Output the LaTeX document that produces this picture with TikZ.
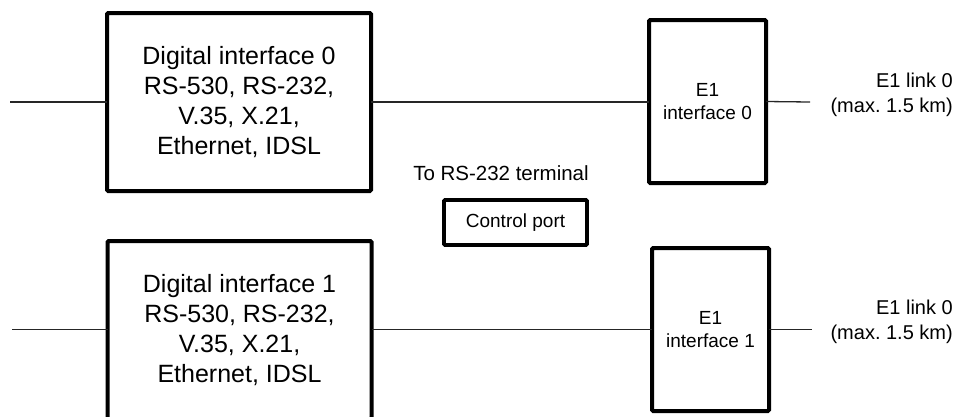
\documentclass[tikz,border=0pt]{standalone}
\usepackage{fontspec}
\setmainfont{Liberation Sans}
\frenchspacing
\begin{document}
\begin{tikzpicture}[x=1pt,y=-1pt,
  bigbox/.style={draw=black, line width=4pt, rounded corners=1.2pt, inner sep=0pt, outer sep=0pt, align=center,
     font=\fontsize{25}{30}\selectfont},
  e1box/.style={draw=black, line width=4pt, rounded corners=1.2pt, inner sep=0pt, outer sep=0pt, align=center,
     minimum width=117pt, minimum height=163pt, font=\fontsize{19}{23}\selectfont},
  ctlbox/.style={draw=black, line width=3.6pt, rounded corners=1pt, inner sep=0pt, outer sep=0pt, align=center,
     minimum width=143pt, minimum height=45pt, font=\fontsize{19}{23}\selectfont},
  lbl/.style={inner sep=0pt, align=right, font=\fontsize{20}{25}\selectfont},
  conn/.style={draw=black!85, line width=1.3pt}
]
\useasboundingbox (0,0) rectangle (955,416);
\clip (0,0) rectangle (955,416);

\node[bigbox, minimum width=264pt, minimum height=178pt] (d0) at (239,102)
  {Digital interface 0\\RS-530, RS-232,\\V.35, X.21,\\Ethernet, IDSL};
\node[bigbox, minimum width=264pt, minimum height=178pt, anchor=north] (d1) at (239.5,241)
  {Digital interface 1\\RS-530, RS-232,\\V.35, X.21,\\Ethernet, IDSL};

\node[e1box] (e0) at (707.5,101.5) {E1\\interface 0};
\node[e1box] (e1) at (710.5,329.5) {E1\\interface 1};

\node[ctlbox] (cp) at (515.5,222.5) {Control port};
\node[inner sep=0pt, font=\fontsize{20.5}{25}\selectfont] (term) at (501,173) {To RS-232 terminal};

\coordinate (in0) at (10,102);
\coordinate (in1) at (12,329.5);
\coordinate (out0) at (810,102);
\coordinate (out1) at (812,329.5);

\draw[conn] (in0) -- (d0.west);
\draw[conn] (d0.east) -- (e0.west |- d0.east);
\draw[conn] (e0.east) -- (out0);
\draw[conn] (in1) -- (in1 -| d1.west);
\draw[conn] (in1 -| d1.east) -- (in1 -| e1.west);
\draw[conn] (e1.east) -- (out1);

\node[lbl, anchor=east] (l0) at (953,95) {E1 link 0\\(max. 1.5 km)};
\node[lbl, anchor=east] (l1) at (953,322) {E1 link 0\\(max. 1.5 km)};
\end{tikzpicture}
\end{document}
